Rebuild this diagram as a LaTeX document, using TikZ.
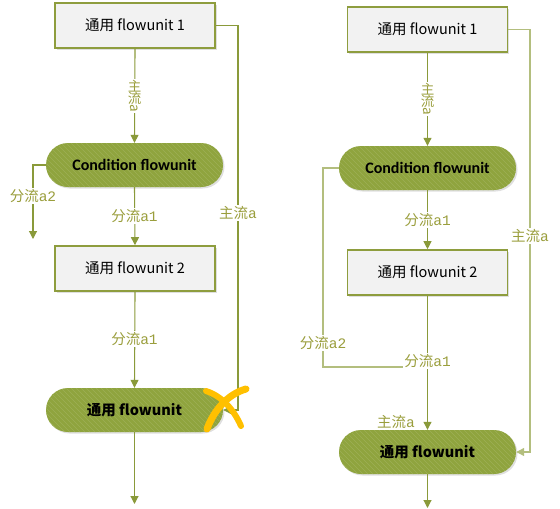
\documentclass[tikz,border=0pt]{standalone}
\usepackage{fontspec}
\usepackage{graphicx}
\setmainfont{Carlito}
\newfontfamily\cjk{Noto Sans CJK SC}
\newfontfamily\mono{Liberation Mono}
\usetikzlibrary{arrows.meta,shadows}
\definecolor{lc}{HTML}{8A9A3A}
\definecolor{lcl}{HTML}{B3BE7E}
\definecolor{bc}{HTML}{8E9D3E}
\definecolor{boxf}{HTML}{F2F2F2}
\definecolor{pf}{HTML}{8FA43E}
\definecolor{hatchc}{HTML}{9DB056}
\definecolor{labc}{HTML}{9A9E3C}
\definecolor{xmark}{HTML}{FFC000}
\begin{document}
\begin{tikzpicture}[x=1pt,y=-1pt,
 line/.style={draw=lc, line width=1.1pt},
 arr/.style={line, -{Triangle[length=8pt,width=8pt]}},
 box/.style={draw=bc, line width=1.6pt, fill=boxf, minimum width=160pt, minimum height=45pt,
   font=\cjk\fontsize{14.5}{16}\selectfont,
   drop shadow={shadow xshift=1.5pt, shadow yshift=-1.5pt, opacity=0.25}},
 pill/.style={fill=pf, rounded corners=22pt, minimum width=177pt, minimum height=44pt,
   font=\bfseries\fontsize{16}{18}\selectfont,
   drop shadow={shadow xshift=1.5pt, shadow yshift=-1.5pt, opacity=0.25},
   path picture={\foreach \i in {0,5,...,260}{\draw[hatchc, line width=0.5pt]
     ([xshift=\i pt-60pt]path picture bounding box.north west) -- ++(60pt,-60pt);}}},
 lab/.style={fill=white, inner sep=1pt, text=labc, font=\cjk\fontsize{14.5}{14.5}\selectfont},
 vlab/.style={lab, align=center, font=\cjk\fontsize{13.5}{12.5}\selectfont}
]
\useasboundingbox (0,0) rectangle (560,509);
% ---------- left diagram ----------
\node[box] (b1) at (135,25.5) {通用 flowunit 1};
\node[pill] (c1) at (134.5,165) {Condition flowunit};
\node[box] (b2) at (135,268.5) {通用 flowunit 2};
\node[pill] (p1) at (134.5,410) {\cjk\bfseries\fontsize{14.5}{16}\selectfont 通用 flowunit};
\coordinate (l1) at (33,165);
\coordinate (l2) at (33,239);
\coordinate (r1) at (238,25.5);
\coordinate (r2) at (238,410);
\coordinate (e1) at (134.5,504);

\draw[arr] (b1.south) -- (c1.north);
\node[vlab] (t1) at (134.5,96) {主\\流\\[-4pt]\rotatebox[origin=c]{-90}{a}};
\draw[arr] (c1.west) -- (l1) -- (l2);
\node[lab] (t2) at (33,196) {分流{\mono a2}};
\draw[arr] (c1.south) -- (b2.north);
\node[lab] (t3) at (134.5,216) {分流{\mono a1}};
\draw[arr] (b2.south) -- (p1.north);
\node[lab] (t4) at (134.5,339) {分流{\mono a1}};
\draw[arr] (b1.east) -- (r1) -- (r2) -- (p1.east);
\node[lab] (t5) at (238,213) {主流{\mono a}};
\draw[arr] (p1.south) -- (e1);
% X mark
\draw[xmark, line width=7pt, line cap=round] (207,429) .. controls (214,410) and (228,394) .. (246,389);
\draw[xmark, line width=6pt, line cap=round] (206,391) .. controls (222,396) and (234,410) .. (241,426);
% ---------- right diagram ----------
\node[box] (b3) at (427.5,29.5) {通用 flowunit 1};
\node[pill] (c2) at (427.5,168) {Condition flowunit};
\node[box] (b4) at (427.5,272.5) {通用 flowunit 2};
\node[pill] (p2) at (427.5,452) {\cjk\bfseries\fontsize{14.5}{16}\selectfont 通用 flowunit};
\coordinate (m1) at (323,168);
\coordinate (m2) at (323,367);
\coordinate (m3) at (427.5,367);
\coordinate (s1) at (530,29.5);
\coordinate (s2) at (530,452);
\coordinate (e2) at (427.5,508);

\draw[arr] (b3.south) -- (c2.north);
\node[vlab] (u1) at (427.5,99) {主\\流\\[-4pt]\rotatebox[origin=c]{-90}{a}};
\draw[line, draw=lcl] (c2.west) -- (m1) -- (m2) -- (m3);
\node[lab] (u2) at (323,343) {分流{\mono a2}};
\draw[arr] (c2.south) -- (b4.north);
\node[lab] (u3) at (427.5,220) {分流{\mono a1}};
\draw[arr] (b4.south) -- (p2.north);
\node[lab] (u4) at (427.5,361) {分流{\mono a1}};
\node[lab, anchor=east] (u5) at (416,422) {主流{\mono a}};
\draw[arr, draw=lcl] (b3.east) -- (s1) -- (s2) -- (p2.east);
\node[lab] (u6) at (530,236) {主流{\mono a}};
\draw[arr] (p2.south) -- (e2);
\end{tikzpicture}
\end{document}
